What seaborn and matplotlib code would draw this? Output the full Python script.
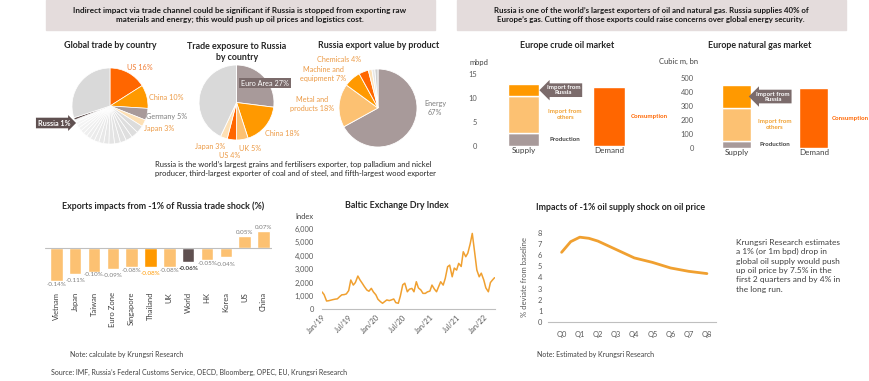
import numpy as np
import pandas as pd
import matplotlib
matplotlib.use('Agg')
import matplotlib.pyplot as plt
import matplotlib.dates as mdates
import matplotlib.ticker as mticker
from matplotlib.patches import Rectangle
import seaborn as sns

sns.set_theme(style='white')
plt.rcParams['font.family'] = ['Lato', 'DejaVu Sans']

# ---------------- data ----------------
global_names = ['US 16%', 'China 10%', 'Germany 5%', 'Japan 3%']
global_shares = [16, 10, 5, 3]
global_small = [3.2, 3.0, 2.8, 2.6, 2.5, 2.4, 2.2, 2.1, 2.0, 1.9, 1.8, 1.7, 1.6, 1.5, 1.4, 1.3, 1.0]
global_russia = 1
global_rest = 30

exposure_names = ['Euro Area 27%', 'China 18%', 'UK 5%', 'US 4%', 'Japan 3%', '']
exposure_shares = [27, 18, 5, 4, 3, 43]

product_names = ['Energy\n67%', 'Metal and\nproducts 18%', 'Machine and\nequipment 7%', 'Chemicals 4%', '', '', '']
product_shares = [67, 18, 7, 4, 1.5, 1.2, 1.3]

oil_supply = [2.8, 7.6, 2.4]      # production, import from others, import from Russia
oil_demand = 12.3
gas_supply = [48, 238, 160]
gas_demand = 424
supply_labels = ['Supply', 'Demand']

export_countries = ['Vietnam', 'Japan', 'Taiwan', 'Euro Zone', 'Singapore', 'Thailand',
                    'UK', 'World', 'HK', 'Korea', 'US', 'China']
export_impact = [-0.14, -0.11, -0.10, -0.09, -0.08, -0.08, -0.08, -0.06, -0.05, -0.04, 0.05, 0.07]

bdi_values = [1300, 1100, 620, 640, 680, 720, 760, 780, 950, 1080, 1100, 1150,
              1400, 2190, 1810, 2000, 2485, 2200, 1940, 1700, 1440, 1350, 1565, 1300,
              1080, 750, 570, 450, 580, 700, 650, 700, 770, 500, 450, 1000,
              1830, 1950, 1310, 1500, 1560, 1310, 2060, 1600, 1440, 1190, 1190, 1300,
              1360, 1810, 1500, 1310, 1690, 2060, 1810, 2310, 3180, 3300, 2430, 3080,
              2930, 3430, 3200, 4300, 3930, 4200, 4900, 5670, 4180, 2930, 2430, 2700,
              2190, 1600, 1310, 2000, 2190, 2360]
bdi_dates = pd.date_range('2019-01-01', periods=len(bdi_values), freq='SMS')

shock_q = [0, 0.5, 1, 1.5, 2, 3, 4, 5, 6, 7, 8]
shock_val = [6.25, 7.2, 7.6, 7.5, 7.25, 6.5, 5.75, 5.35, 4.85, 4.55, 4.35]
shock_ticks = ['Q0', 'Q1', 'Q2', 'Q3', 'Q4', 'Q5', 'Q6', 'Q7', 'Q8']

# ---------------- colours ----------------
RED = '#ff6600'
ORANGE = '#ff9900'
LIGHT = '#fcc172'
PALE = '#fde0b5'
MAUVE = '#a89a9a'
DARK = '#5f5050'
GREY = '#d9d9d9'
TXT_OR = '#ec9a45'
LINE = '#f0a030'

W, H = 870, 381
fig = plt.figure(figsize=(W / 100, H / 100), dpi=100)


def box(x0, y0, x1, y1):
    return [x0 / W, 1 - y1 / H, (x1 - x0) / W, (y1 - y0) / H]


def ftext(x, y, s, **kw):
    fig.text(x / W, 1 - y / H, s, **kw)


# ---------------- headers ----------------
for x0, x1 in [(46, 435), (457, 846)]:
    fig.patches.append(Rectangle((x0 / W, 1 - 30 / H), (x1 - x0) / W, 30 / H,
                                 transform=fig.transFigure, color='#e4dcdc', zorder=0))
ftext(240, 15, 'Indirect impact via trade channel could be significant if Russia is stopped from exporting raw\n'
      'materials and energy; this would push up oil prices and logistics cost.',
      ha='center', va='center', fontsize=5.9, fontweight='bold', color='#1a1a1a', linespacing=1.4)
ftext(651, 15, 'Russia is one of the world\u2019s largest exporters of oil and natural gas. Russia supplies 40% of\n'
      'Europe\u2019s gas. Cutting off those exports could raise concerns over global energy security.',
      ha='center', va='center', fontsize=5.7, fontweight='bold', color='#1a1a1a', linespacing=1.45)

title_kw = dict(fontsize=6.4, fontweight='bold', color='#262626', ha='center', va='center')

# ---------------- pie 1 ----------------
ax = fig.add_axes(box(72, 68, 148, 144))
small_cols = sns.blend_palette(['#dcdcdc', '#f7f7f7'], len(global_small))
vals = global_shares + global_small + [global_russia, global_rest]
cols = [RED, ORANGE, MAUVE, PALE] + list(small_cols) + [DARK, GREY]
ax.pie(vals, colors=cols, startangle=90, counterclock=False,
       wedgeprops=dict(edgecolor='white', linewidth=0.5))
ax.set_xlim(-1, 1)
ax.set_ylim(-1, 1)
ftext(110, 46, 'Global trade by country', **title_kw)
lab_kw = dict(fontsize=5.2, ha='center', va='center')
ftext(140, 67, global_names[0], color='#f07a30', **lab_kw)
ftext(166, 97, global_names[1], color=TXT_OR, **lab_kw)
ftext(167, 117, global_names[2], color='#7f7f7f', **lab_kw)
ftext(159, 128, global_names[3], color=TXT_OR, **lab_kw)
ftext(54, 123, 'Russia 1%', color='white', fontweight='bold',
      bbox=dict(boxstyle='rarrow,pad=0.25', fc=DARK, ec='none'), **lab_kw)

# ---------------- pie 2 ----------------
ax = fig.add_axes(box(199, 65, 274, 140))
ax.pie(exposure_shares, colors=[MAUVE, ORANGE, LIGHT, RED, PALE, GREY], startangle=90,
       counterclock=False, wedgeprops=dict(edgecolor='white', linewidth=0.6))
ax.set_xlim(-1, 1)
ax.set_ylim(-1, 1)
ftext(237, 52, 'Trade exposure to Russia\nby country', linespacing=1.15, **title_kw)
ftext(265, 83, exposure_names[0], color='white',
      bbox=dict(boxstyle='square,pad=0.25', fc='#7b6b6b', ec='none'), **lab_kw)
ftext(282, 133, exposure_names[1], color=TXT_OR, **lab_kw)
ftext(250, 148, exposure_names[2], color=TXT_OR, **lab_kw)
ftext(230, 155, exposure_names[3], color=TXT_OR, **lab_kw)
ftext(210, 146, exposure_names[4], color=TXT_OR, **lab_kw)

# ---------------- pie 3 ----------------
ax = fig.add_axes(box(339, 69, 417, 147))
ax.pie(product_shares, colors=[MAUVE, LIGHT, ORANGE, RED, PALE, '#e6e6e6', '#cfcfcf'],
       startangle=90, counterclock=False, wedgeprops=dict(edgecolor='white', linewidth=0.6))
ax.set_xlim(-1, 1)
ax.set_ylim(-1, 1)
ftext(379, 46, 'Russia export value by product', **title_kw)
ftext(435, 108, product_names[0], color='#7f7f7f', linespacing=1.3, **lab_kw)
ftext(312, 104, product_names[1], color=TXT_OR, linespacing=1.3, **lab_kw)
ftext(323, 74, product_names[2], color=TXT_OR, linespacing=1.3, **lab_kw)
ftext(339, 60, product_names[3], color=TXT_OR, **lab_kw)

ftext(155, 169, 'Russia is the world\u2019s largest grains and fertilisers exporter, top palladium and nickel\n'
      'producer, third-largest exporter of coal and of steel, and fifth-largest wood exporter',
      fontsize=5.5, color='#262626', ha='left', va='center', linespacing=1.45)


# ---------------- Europe stacked bars ----------------
def market(bx, supply, demand, ylim, yticks, unit, unit_xy, title, title_x):
    ax = fig.add_axes(box(*bx))
    seg_cols = [MAUVE, LIGHT, ORANGE]
    bottom = 0
    for v, c in zip(supply, seg_cols):
        ax.bar(0, v, bottom=bottom, width=0.37, color=c)
        bottom += v
    ax.bar(1, demand, width=0.37, color=RED)
    ax.set_xlim(-0.45, 1.6)
    ax.set_ylim(*ylim)
    ax.set_yticks(yticks)
    ax.set_xticks([0, 1])
    ax.set_xticklabels(supply_labels)
    ax.tick_params(axis='y', labelsize=5.4, labelcolor='#595959', pad=6, length=0)
    ax.tick_params(axis='x', labelsize=5.8, labelcolor='#404040', pad=1, length=0)
    sns.despine(ax=ax, left=True, bottom=True)
    ann = dict(ha='center', va='center', fontsize=4.4, fontweight='bold')
    ax.text(0.47, supply[0] + supply[1] + supply[2] / 2, 'Import from\nRussia', color='white',
            linespacing=1.0, bbox=dict(boxstyle='larrow,pad=0.3', fc='#7b6b6b', ec='none'), **ann)
    ax.text(0.49, supply[0] + supply[1] / 2, 'Import from\nothers', color=LINE, linespacing=1.3, **ann)
    ax.text(0.49, supply[0] / 2, 'Production', color='#404040', **ann)
    ax.text(1.47, demand / 2, 'Consumption', color=RED, **ann)
    ftext(unit_xy[0], unit_xy[1], unit, fontsize=5.4, color='#404040', ha='center', va='center')
    ftext(title_x, 46, title, **title_kw)


market((485, 69, 660, 146), oil_supply, oil_demand, (0, 16), [0, 5, 10, 15],
       'mbpd', (479, 62), 'Europe crude oil market', 567)
market((702, 75, 860, 147.7), gas_supply, gas_demand, (0, 520), [0, 100, 200, 300, 400, 500],
       'Cubic m, bn', (679, 61), 'Europe natural gas market', 760)

# ---------------- export impacts ----------------
ax = fig.add_axes(box(45, 224, 272, 290.5))
bar_cols = [LIGHT] * len(export_countries)
bar_cols[export_countries.index('Thailand')] = ORANGE
bar_cols[export_countries.index('World')] = DARK
df_exp = pd.DataFrame({'country': export_countries, 'impact': export_impact})
sns.barplot(data=df_exp, x='country', y='impact', hue='country', palette=bar_cols,
            legend=False, width=0.67, saturation=1, ax=ax)
ax.axhline(0, color='#bfbfbf', lw=0.8)
ax.set_xlim(-0.6, 11.45)
ax.set_ylim(-0.18, 0.10)
ax.set_yticks([])
ax.set_xlabel('')
ax.set_ylabel('')
ax.tick_params(axis='x', rotation=90, labelsize=5.5, labelcolor='#404040', pad=1, length=0)
sns.despine(ax=ax, left=True, bottom=True)
# labels alternate slightly lower/higher so neighbouring -0.08% labels do not collide
for i, (c, v) in enumerate(zip(export_countries, export_impact)):
    col, fw = '#7f7f7f', 'normal'
    if c == 'Thailand':
        col = ORANGE
    if c == 'World':
        col, fw = '#404040', 'bold'
    if v > 0:
        y, va = v + 0.005, 'bottom'
    else:
        y, va = v - (0.004 if i % 2 == 0 else 0.018), 'top'
    ax.text(i, y, f'{v:.2f}%', ha='center', va=va, fontsize=4.5, color=col, fontweight=fw)
ftext(163, 206, 'Exports impacts from -1% of Russia trade shock (%)', **title_kw)

# ---------------- Baltic Dry Index ----------------
ax = fig.add_axes(box(322, 229, 495, 309.3))
sns.lineplot(x=bdi_dates, y=bdi_values, color=LINE, lw=1.1, ax=ax)
ax.set_xlabel('')
ax.set_ylabel('')
ax.set_xlim(pd.Timestamp('2019-01-01'), pd.Timestamp('2022-03-18'))
ax.set_ylim(0, 6000)
ax.set_yticks(range(0, 6001, 1000))
ax.yaxis.set_major_formatter(mticker.StrMethodFormatter('{x:,.0f}'))
ax.xaxis.set_major_locator(mdates.MonthLocator(bymonth=[1, 7]))
ax.xaxis.set_major_formatter(mdates.DateFormatter('%b/%y'))
for lab in ax.get_xticklabels():
    lab.set_rotation(45)
    lab.set_ha('right')
    lab.set_rotation_mode('anchor')
ax.tick_params(labelsize=5.4, labelcolor='#595959', length=0)
ax.tick_params(axis='y', pad=6)
ax.tick_params(axis='x', pad=3)
sns.despine(ax=ax, left=True)
ax.spines['bottom'].set_color('#bfbfbf')
ax.spines['bottom'].set_linewidth(0.8)
ftext(304, 217, 'Index', fontsize=5.4, color='#404040', ha='center', va='center')
ftext(397, 206, 'Baltic Exchange Dry Index', **title_kw)

# ---------------- oil supply shock ----------------
ax = fig.add_axes(box(548, 232.7, 716, 322.3))
sns.lineplot(x=shock_q, y=shock_val, color=LINE, lw=2.0, ax=ax)
ax.set_xlim(-0.75, 8.5)
ax.set_ylim(0, 8)
ax.set_yticks(range(0, 9))
ax.set_xticks(range(9))
ax.set_xticklabels(shock_ticks)
ax.tick_params(labelsize=5.4, labelcolor='#595959', length=0)
ax.tick_params(axis='y', pad=4)
ax.tick_params(axis='x', pad=6)
ax.set_xlabel('')
ax.set_ylabel('% deviate from baseline', fontsize=5.5, color='#595959', labelpad=7)
sns.despine(ax=ax, left=True)
ax.spines['bottom'].set_color('#bfbfbf')
ax.spines['bottom'].set_linewidth(0.8)
ftext(621, 207, 'Impacts of -1% oil supply shock on oil price', **title_kw)

ftext(736, 239, 'Krungsri Research estimates\na 1% (or 1m bpd) drop in\nglobal oil supply would push\n'
      'up oil price by 7.5% in the\nfirst 2 quarters and by 4% in\nthe long run.',
      fontsize=6.0, color='#404040', ha='left', va='top', linespacing=1.38)

# ---------------- notes ----------------
note_kw = dict(fontsize=5.0, color='#404040', ha='left', va='center')
ftext(70, 354, 'Note: calculate by Krungsri Research', **note_kw)
ftext(537, 354, 'Note: Estimated by Krungsri Research', **note_kw)
ftext(51, 372, 'Source: IMF, Russia\u2019s Federal Customs Service, OECD, Bloomberg, OPEC, EU, Krungsri Research',
      **note_kw)

fig.savefig('out.png', dpi=100, facecolor='white')
